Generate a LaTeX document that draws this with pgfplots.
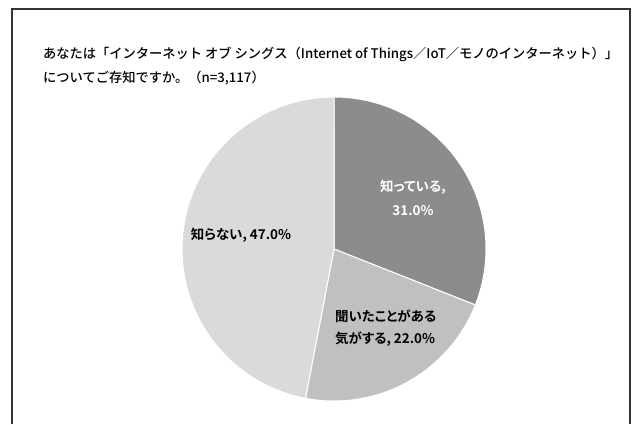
\documentclass[border=0pt]{standalone}
\usepackage{pgfplots}
\pgfplotsset{compat=1.18}
\usepackage{fontspec}
\newfontfamily\cjk{Noto Sans CJK JP Medium}
\newfontfamily\cjkb{Noto Sans CJK JP Bold}[RawFeature=+palt]
\definecolor{sA}{HTML}{8C8C8C}
\definecolor{sB}{HTML}{C0C0C0}
\definecolor{sC}{HTML}{DADADA}
% values (percent)
\def\va{31}
\def\vb{22}
\def\vc{47}
\pgfmathsetmacro{\aA}{90}
\pgfmathsetmacro{\aB}{90-3.6*\va}
\pgfmathsetmacro{\aC}{\aB-3.6*\vb}
\pgfmathsetmacro{\aD}{\aC-3.6*\vc}
\begin{document}
\begin{tikzpicture}
\begin{axis}[
  width=637bp, height=419bp, scale only axis,
  xmin=0, xmax=637, ymin=0, ymax=419,
  hide axis, clip=false,
  axis background/.style={fill=white},
]
\addplot[fill=sA, draw=white, line width=1pt, domain=\aA:\aB, samples=90, variable=\t]
  ({334+152*cos(\t)}, {170+152*sin(\t)}) -- (334,170) -- cycle;
\addplot[fill=sB, draw=white, line width=1pt, domain=\aB:\aC, samples=90, variable=\t]
  ({334+152*cos(\t)}, {170+152*sin(\t)}) -- (334,170) -- cycle;
\addplot[fill=sC, draw=white, line width=1pt, domain=\aC:\aD, samples=120, variable=\t]
  ({334+152*cos(\t)}, {170+152*sin(\t)}) -- (334,170) -- cycle;
\draw[black!80, line width=1.2pt] (12,-5) -- (12,410) -- (630,410) -- (630,-5);
\node[anchor=west, font=\cjk\fontsize{13.3}{15}\selectfont, inner sep=0] (t1) at (43,365)
  {あなたは「インターネット オブ シングス（Internet of Things／IoT／モノのインターネット）」};
\node[anchor=west, font=\cjk\fontsize{13.3}{15}\selectfont, inner sep=0] at (43,341)
  {についてご存知ですか。（n=3,117）};
\node[align=center, text=white, font=\cjkb\fontsize{13.5}{24}\selectfont, inner sep=0] at (413,221)
  {知っている,\\31.0\%};
\node[font=\cjkb\fontsize{13.5}{24}\selectfont, inner sep=0] at (241,184)
  {知らない, 47.0\%};
\node[anchor=west, align=left, font=\cjkb\fontsize{13.5}{22}\selectfont, inner sep=0] at (335,91)
  {聞いたことがある\\気がする, 22.0\%};
\end{axis}
\end{tikzpicture}
\end{document}
